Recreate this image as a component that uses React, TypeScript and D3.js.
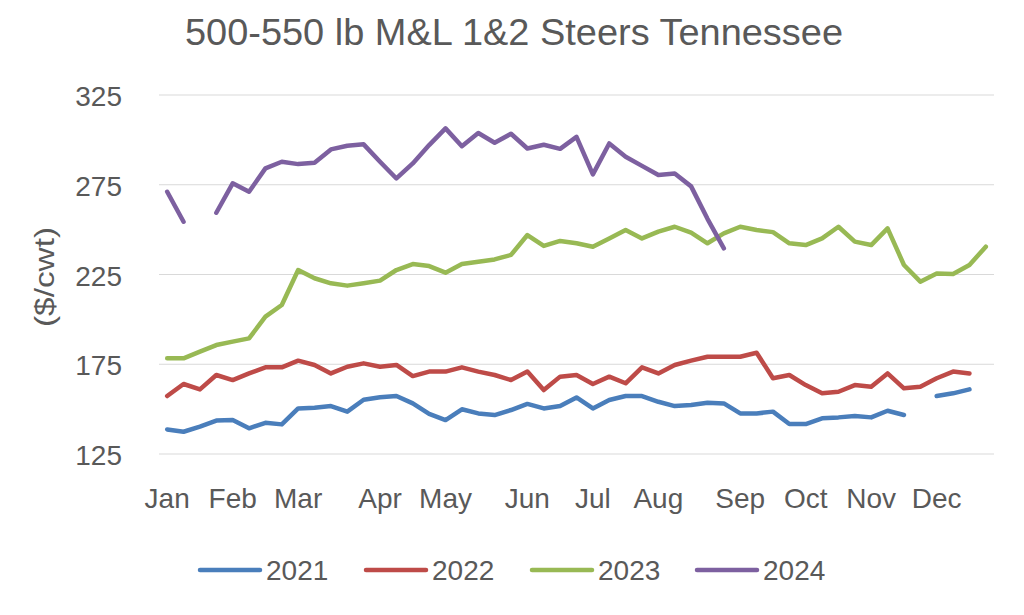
import React from "react";
import * as d3 from "d3";

const title = "500-550 lb M&L 1&2 Steers Tennessee";
const yLabel = "($/cwt)";
const yTicks = [125, 175, 225, 275, 325];
const monthLabels = ["Jan", "Feb", "Mar", "Apr", "May", "Jun", "Jul", "Aug", "Sep", "Oct", "Nov", "Dec"];
const monthWeeks = [0, 4, 8, 13, 17, 22, 26, 30, 35, 39, 43, 47];
const weekCount = 51;

const s2021: (number | null)[] = [
  138.7, 137.4, 140.2, 143.6, 143.9, 139.3, 142.4, 141.5, 150.4, 150.8, 151.7, 148.6, 155.2,
  156.6, 157.3, 153.2, 147.3, 143.9, 149.9, 147.6, 146.7, 149.5, 152.9, 150.4, 151.7, 156.5,
  150.4, 155.1, 157.3, 157.3, 154.1, 151.7, 152.3, 153.6, 153.2, 147.6, 147.6, 148.6, 141.7,
  141.7, 144.9, 145.4, 146.2, 145.4, 149.1, 146.7, null, 157.3, 158.8, 161.0, null,
];
const s2022: (number | null)[] = [
  157.3, 164.0, 161.0, 169.0, 166.2, 169.9, 173.3, 173.3, 177.0, 174.6, 169.9, 173.6, 175.5,
  173.6, 174.6, 168.4, 170.9, 170.9, 173.3, 170.9, 169.0, 166.2, 170.9, 160.6, 168.1, 169.0,
  164.0, 168.1, 164.4, 173.3, 169.9, 174.6, 177.0, 179.2, 179.2, 179.2, 181.4, 167.2, 169.0,
  163.4, 158.8, 159.7, 163.4, 162.5, 169.9, 161.6, 162.5, 167.2, 170.9, 169.9, null,
];
const s2023: (number | null)[] = [
  178.3, 178.3, 182.0, 185.7, 187.6, 189.4, 201.5, 208.0, 227.5, 222.9, 220.1, 218.8, 220.1,
  221.6, 227.5, 230.8, 229.7, 226.0, 230.8, 232.1, 233.4, 235.9, 247.0, 240.9, 243.7, 242.4,
  240.5, 245.1, 249.8, 245.1, 248.9, 251.6, 248.3, 242.4, 247.9, 251.6, 249.8, 248.6, 242.4,
  241.4, 245.1, 251.6, 243.3, 241.4, 250.7, 230.3, 221.0, 225.6, 225.3, 230.3, 240.5,
];
const s2024: (number | null)[] = [
  271.1, 254.4, null, 259.4, 275.8, 271.1, 284.1, 287.8, 286.5, 287.3, 294.7, 296.7, 297.5,
  287.8, 278.5, 286.9, 297.1, 306.4, 296.5, 303.8, 298.4, 303.4, 295.2, 297.3, 295.0, 301.7,
  280.8, 298.0, 290.6, 285.5, 280.4, 281.3, 274.1, 256.0, 239.6, null, null, null, null,
  null, null, null, null, null, null, null, null, null, null, null, null,
];

const seriesNames = ["2021", "2022", "2023", "2024"];
const seriesData = [s2021, s2022, s2023, s2024];
const seriesColors = ["#4A7EBB", "#BE4B48", "#98B954", "#7D60A0"];

const W = 1024;
const H = 615;
const left = 159;
const right = 994;
const top = 95;
const bottom = 454;
const textColor = "#595959";
const font = "'Liberation Sans', Arial, sans-serif";

export default function App() {
  const x = d3
    .scaleBand<number>()
    .domain(d3.range(weekCount))
    .range([left, right]);
  const cx = (i: number) => (x(i) as number) + x.bandwidth() / 2;
  const y = d3.scaleLinear().domain([125, 325]).range([bottom, top]);

  const line = d3
    .line<number | null>()
    .defined((d) => d !== null)
    .x((_, i) => cx(i))
    .y((d) => y(d as number));

  const legendLineX = [200, 366, 532, 697];

  return (
    <svg
      width={W}
      height={H}
      style={{ position: "absolute", left: 0, top: 0, background: "#fff" }}
      fontFamily={font}
    >
      <rect x={0} y={0} width={W} height={H} fill="#fff" />
      <text
        x={514}
        y={45}
        textAnchor="middle"
        fontSize={37.5}
        fill={textColor}
        textLength={658}
        lengthAdjust="spacingAndGlyphs"
      >
        {title}
      </text>

      {yTicks.map((t) => (
        <g key={t}>
          <line x1={left} x2={right} y1={y(t)} y2={y(t)} stroke="#D9D9D9" strokeWidth={1.2} />
          <text x={122} y={y(t) + 11} textAnchor="end" fontSize={28} fill={textColor}>
            {t}
          </text>
        </g>
      ))}

      <text
        transform={`translate(54, 277) rotate(-90)`}
        textAnchor="middle"
        fontSize={28}
        fill={textColor}
        textLength={100}
        lengthAdjust="spacingAndGlyphs"
      >
        {yLabel}
      </text>

      {monthLabels.map((m, k) => (
        <text key={m} x={cx(monthWeeks[k])} y={508} textAnchor="middle" fontSize={28} fill={textColor}>
          {m}
        </text>
      ))}

      {seriesData.map((s, k) => (
        <path
          key={seriesNames[k]}
          d={line(s) || ""}
          fill="none"
          stroke={seriesColors[k]}
          strokeWidth={4.5}
          strokeLinejoin="round"
          strokeLinecap="round"
        />
      ))}

      {seriesNames.map((n, k) => (
        <g key={n}>
          <line
            x1={legendLineX[k]}
            x2={legendLineX[k] + 60}
            y1={570}
            y2={570}
            stroke={seriesColors[k]}
            strokeWidth={4.5}
            strokeLinecap="round"
          />
          <text x={legendLineX[k] + 66} y={580} fontSize={28} fill={textColor}>
            {n}
          </text>
        </g>
      ))}
    </svg>
  );
}
